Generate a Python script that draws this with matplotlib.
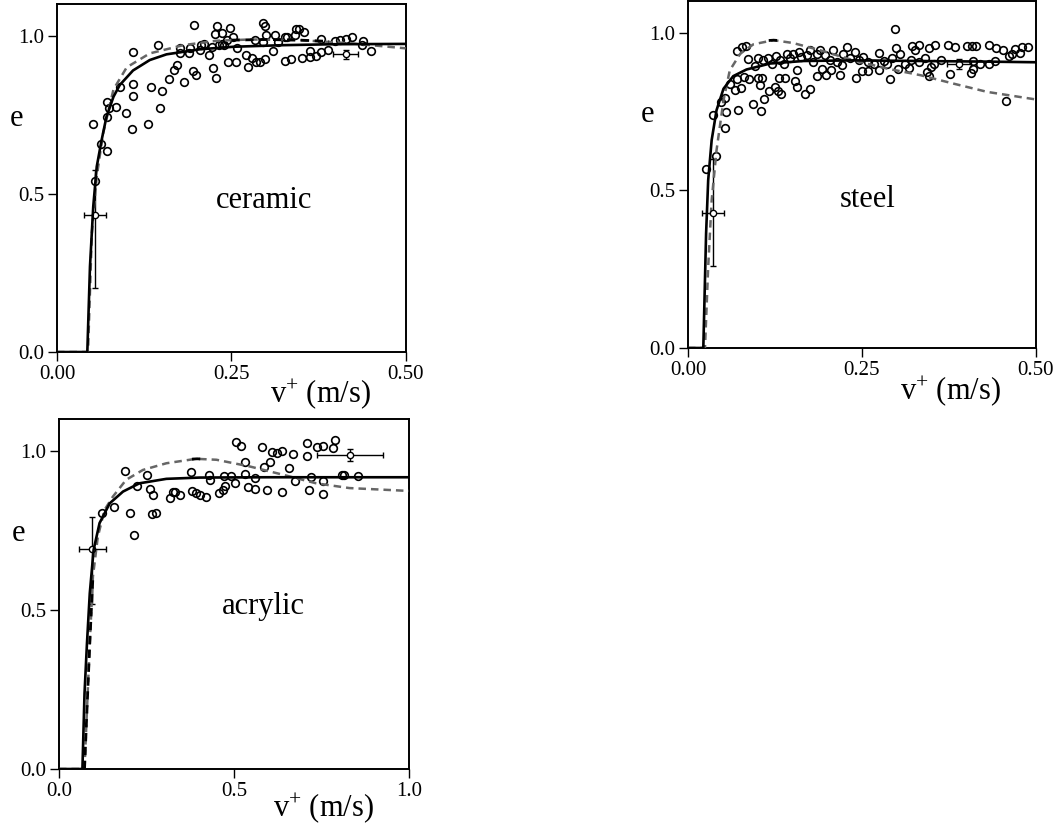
import matplotlib
matplotlib.use('Agg')
import matplotlib.pyplot as plt

plt.rcParams['font.family'] = ['Liberation Serif', 'DejaVu Serif']
plt.rcParams['mathtext.fontset'] = 'custom'
plt.rcParams['mathtext.rm'] = 'Liberation Serif'
plt.rcParams['mathtext.it'] = 'Liberation Serif:italic'

# ---------------- ceramic ----------------
cer_x = [0.052, 0.063, 0.072, 0.072, 0.071, 0.074, 0.085, 0.091, 0.099, 0.107,
         0.109, 0.109, 0.109, 0.131, 0.135, 0.147, 0.150, 0.145, 0.160, 0.168,
         0.172, 0.182, 0.176, 0.176, 0.189, 0.195, 0.200, 0.196, 0.190, 0.205,
         0.211, 0.218, 0.222, 0.223, 0.228, 0.226, 0.230, 0.237, 0.232, 0.240,
         0.248, 0.245, 0.253, 0.256, 0.258, 0.271, 0.274, 0.279, 0.286, 0.291,
         0.284, 0.295, 0.298, 0.300, 0.298, 0.295, 0.310, 0.312, 0.317, 0.327,
         0.327, 0.330, 0.336, 0.342, 0.347, 0.341, 0.351, 0.354, 0.362, 0.362,
         0.372, 0.379, 0.379, 0.388, 0.398, 0.405, 0.415, 0.423, 0.439, 0.437,
         0.450, 0.055, 0.207, 0.236, 0.244]
cer_y = [0.720, 0.658, 0.636, 0.742, 0.790, 0.770, 0.774, 0.837, 0.757, 0.704,
         0.810, 0.848, 0.948, 0.721, 0.838, 0.770, 0.824, 0.969, 0.862, 0.892,
         0.906, 0.855, 0.962, 0.944, 0.944, 0.888, 0.875, 1.033, 0.960, 0.955,
         0.975, 0.939, 0.965, 0.897, 0.867, 1.004, 1.031, 1.007, 0.971, 0.972,
         1.024, 0.916, 0.997, 0.916, 0.960, 0.939, 0.902, 0.928, 0.918, 0.916,
         0.985, 1.039, 1.031, 1.002, 0.926, 0.981, 0.953, 1.002, 0.981, 0.995,
         0.920, 0.997, 0.927, 1.021, 1.021, 1.002, 0.931, 1.013, 0.953, 0.932,
         0.937, 0.988, 0.950, 0.955, 0.984, 0.986, 0.989, 0.995, 0.984, 0.972,
         0.953, 0.541, 0.972, 0.975, 0.985]
cer_fit_x = [0.0, 0.0435, 0.0473, 0.052, 0.057, 0.064, 0.071, 0.081, 0.090, 0.109,
             0.133, 0.157, 0.205, 0.253, 0.324, 0.396, 0.500]
cer_fit_y = [0.0, 0.0, 0.27, 0.46, 0.586, 0.67, 0.744, 0.807, 0.844, 0.89,
             0.923, 0.941, 0.957, 0.965, 0.970, 0.973, 0.974]
cer_alt_x = [0.0, 0.0445, 0.050, 0.057, 0.066, 0.081, 0.100, 0.133, 0.181, 0.229,
             0.277, 0.348, 0.420, 0.500]
cer_alt_y = [0.0, 0.0, 0.376, 0.555, 0.69, 0.83, 0.90, 0.944, 0.970, 0.984,
             0.988, 0.986, 0.976, 0.960]
cer_blk_x = [0.25, 0.30, 0.348, 0.39]
cer_blk_y = [0.986, 0.988, 0.986, 0.982]
cer_err_x = [0.0544, 0.414]
cer_err_y = [0.434, 0.941]
cer_err_xe = [0.016, 0.018]
cer_err_ylo = [0.232, 0.015]
cer_err_yhi = [0.142, 0.015]

# ---------------- steel ----------------
stl_x = [0.026, 0.040, 0.036, 0.053, 0.055, 0.048, 0.053, 0.060, 0.068, 0.072,
         0.076, 0.071, 0.077, 0.083, 0.086, 0.070, 0.080, 0.087, 0.093, 0.105,
         0.109, 0.104, 0.107, 0.101, 0.117, 0.125, 0.130, 0.134, 0.131, 0.140,
         0.154, 0.156, 0.168, 0.175, 0.156, 0.185, 0.192, 0.199, 0.205, 0.218,
         0.221, 0.241, 0.250, 0.259, 0.275, 0.290, 0.302, 0.298, 0.299, 0.304,
         0.318, 0.321, 0.322, 0.326, 0.332, 0.341, 0.343, 0.347, 0.349, 0.347,
         0.355, 0.363, 0.373, 0.384, 0.377, 0.401, 0.408, 0.414, 0.407, 0.409,
         0.410, 0.419, 0.432, 0.433, 0.441, 0.443, 0.453, 0.457, 0.461, 0.465,
         0.470, 0.477, 0.480, 0.488,
         0.096, 0.101, 0.108, 0.115, 0.120, 0.126, 0.132, 0.138, 0.142, 0.147,
         0.151, 0.159, 0.163, 0.171, 0.176, 0.180, 0.185, 0.190, 0.197, 0.204,
         0.209, 0.214, 0.223, 0.228, 0.233, 0.240, 0.245, 0.251, 0.259, 0.267,
         0.275, 0.281, 0.286, 0.293, 0.312, 0.332, 0.353]
stl_y = [0.566, 0.608, 0.738, 0.699, 0.748, 0.780, 0.794, 0.838, 0.819, 0.756,
         0.825, 0.942, 0.955, 0.958, 0.915, 0.854, 0.859, 0.852, 0.773, 0.751,
         0.788, 0.835, 0.857, 0.857, 0.815, 0.826, 0.815, 0.804, 0.855, 0.857,
         0.847, 0.826, 0.804, 0.822, 0.883, 0.861, 0.886, 0.865, 0.881, 0.865,
         0.896, 0.857, 0.878, 0.878, 0.883, 0.854, 0.886, 1.013, 0.952, 0.933,
         0.888, 0.914, 0.958, 0.946, 0.960, 0.921, 0.875, 0.862, 0.891, 0.952,
         0.960, 0.912, 0.960, 0.955, 0.868, 0.958, 0.958, 0.958, 0.872, 0.884,
         0.910, 0.899, 0.962, 0.900, 0.910, 0.952, 0.944, 0.782, 0.925, 0.933,
         0.949, 0.936, 0.955, 0.955,
         0.894, 0.918, 0.912, 0.918, 0.902, 0.925, 0.914, 0.902, 0.933, 0.921,
         0.933, 0.939, 0.923, 0.928, 0.944, 0.907, 0.933, 0.944, 0.928, 0.914,
         0.944, 0.907, 0.933, 0.955, 0.918, 0.939, 0.914, 0.923, 0.907, 0.902,
         0.936, 0.910, 0.902, 0.918, 0.902, 0.907, 0.902]
stl_fit_x = [0.0, 0.022, 0.026, 0.029, 0.034, 0.041, 0.051, 0.065, 0.084, 0.118,
             0.166, 0.238, 0.334, 0.430, 0.500]
stl_fit_y = [0.0, 0.0, 0.363, 0.532, 0.659, 0.754, 0.822, 0.862, 0.883, 0.902,
             0.910, 0.912, 0.910, 0.908, 0.906]
stl_alt_x = [0.0, 0.0244, 0.029, 0.034, 0.041, 0.051, 0.060, 0.075, 0.094, 0.123,
             0.151, 0.190, 0.238, 0.286, 0.334, 0.382, 0.430, 0.500]
stl_alt_y = [0.0, 0.0, 0.257, 0.468, 0.627, 0.785, 0.880, 0.933, 0.963, 0.976,
             0.967, 0.944, 0.912, 0.886, 0.865, 0.838, 0.812, 0.788]
stl_blk_x = [0.116, 0.123, 0.130]
stl_blk_y = [0.975, 0.976, 0.975]
stl_err_x = [0.036, 0.389]
stl_err_y = [0.429, 0.900]
stl_err_xe = [0.016, 0.017]
stl_err_ylo = [0.17, 0.015]
stl_err_yhi = [0.17, 0.015]

# ---------------- acrylic ----------------
acr_x = [0.123, 0.157, 0.188, 0.202, 0.214, 0.223, 0.252, 0.259, 0.270, 0.266,
         0.278, 0.318, 0.326, 0.333, 0.345, 0.378, 0.380, 0.392, 0.404, 0.419,
         0.429, 0.433, 0.457, 0.470, 0.475, 0.473, 0.492, 0.502, 0.505, 0.521,
         0.532, 0.533, 0.540, 0.559, 0.559, 0.580, 0.586, 0.594, 0.602, 0.608,
         0.623, 0.637, 0.637, 0.657, 0.670, 0.676, 0.710, 0.709, 0.716, 0.721,
         0.737, 0.756, 0.754, 0.756, 0.783, 0.790, 0.810, 0.816, 0.856]
acr_y = [0.806, 0.822, 0.938, 0.804, 0.736, 0.888, 0.925, 0.879, 0.860, 0.801,
         0.804, 0.851, 0.870, 0.872, 0.860, 0.932, 0.875, 0.867, 0.862, 0.856,
         0.925, 0.909, 0.867, 0.877, 0.890, 0.922, 0.921, 0.900, 1.029, 1.014,
         0.964, 0.927, 0.886, 0.880, 0.914, 1.012, 0.949, 0.877, 0.966, 0.995,
         0.993, 0.998, 0.870, 0.946, 0.990, 0.904, 1.026, 0.985, 0.877, 0.919,
         1.012, 1.016, 0.864, 0.904, 1.008, 1.035, 0.925, 0.925, 0.921]
acr_fit_x = [0.0, 0.067, 0.073, 0.080, 0.088, 0.099, 0.116, 0.145, 0.183, 0.230,
             0.307, 0.402, 0.592, 0.783, 1.0]
acr_fit_y = [0.0, 0.0, 0.238, 0.395, 0.552, 0.689, 0.773, 0.835, 0.872, 0.898,
             0.912, 0.916, 0.917, 0.917, 0.917]
acr_alt_x = [0.0, 0.073, 0.080, 0.088, 0.097, 0.111, 0.130, 0.154, 0.192, 0.240,
             0.307, 0.392, 0.450, 0.545, 0.640, 0.735, 0.830, 1.0]
acr_alt_y = [0.0, 0.0, 0.186, 0.395, 0.605, 0.730, 0.814, 0.856, 0.909, 0.940,
             0.961, 0.975, 0.972, 0.951, 0.925, 0.898, 0.883, 0.874]
acr_blk_x = [0.073, 0.080, 0.088, 0.097]
acr_blk_y = [0.0, 0.186, 0.395, 0.605]
acr_blk2_x = [0.380, 0.395, 0.412]
acr_blk2_y = [0.974, 0.975, 0.974]
acr_err_x = [0.095, 0.832]
acr_err_y = [0.692, 0.987]
acr_err_xe = [0.038, 0.095]
acr_err_ylo = [0.174, 0.02]
acr_err_yhi = [0.099, 0.02]


def panel(rect, xs, ys, fit, alt, blks, err, xmax, xticks, xticklabels,
          name, name_pos, xlab_y):
    ax = fig.add_axes(rect)
    ax.plot(xs, ys, 'o', ms=5.5, mfc='none', mec='black', mew=1.2, zorder=3)
    ex, ey, exe, eylo, eyhi = err
    ax.errorbar(ex, ey, xerr=exe, yerr=[eylo, eyhi], fmt='o', ms=4.5,
                mfc='white', mec='black', mew=1.0, ecolor='black',
                elinewidth=1.0, capsize=2.5, capthick=1.0, zorder=4)
    ax.plot(alt[0], alt[1], color='0.4', lw=1.8, ls=(0, (3, 2)), zorder=4)
    for bx, by in blks:
        ax.plot(bx, by, color='black', lw=2.0, ls=(0, (3, 2)), zorder=5)
    ax.plot(fit[0], fit[1], color='black', lw=1.9, zorder=5)
    ax.set_xlim(0, xmax)
    ax.set_ylim(0, 1.10)
    ax.set_xticks(xticks)
    ax.set_xticklabels(xticklabels)
    ax.set_yticks([0.0, 0.5, 1.0])
    ax.set_yticklabels(['0.0', '0.5', '1.0'])
    ax.tick_params(direction='out', length=6.5, width=1.0, labelsize=15,
                   colors='black')
    ax.tick_params(axis='y', pad=2.5)
    ax.tick_params(axis='x', pad=3)
    for s in ax.spines.values():
        s.set_linewidth(1.4)
    ax.text(name_pos[0], name_pos[1], name, transform=ax.transAxes,
            fontsize=22, ha='center', va='baseline')
    ax.text(-0.115, 0.672, 'e', transform=ax.transAxes, fontsize=22,
            ha='center', va='center')
    ax.text(0.755, xlab_y, 'v$^{+}$ (m/s)', transform=ax.transAxes,
            fontsize=22, ha='center', va='center')
    return ax


fig = plt.figure(figsize=(10.57, 8.26), dpi=100)

panel([0.0539, 0.5738, 0.330, 0.4213], cer_x, cer_y,
      (cer_fit_x, cer_fit_y), (cer_alt_x, cer_alt_y),
      [(cer_blk_x, cer_blk_y)],
      (cer_err_x, cer_err_y, cer_err_xe, cer_err_ylo, cer_err_yhi),
      0.5, [0.0, 0.25, 0.5], ['0.00', '0.25', '0.50'],
      'ceramic', (0.595, 0.414), -0.12)

panel([0.6509, 0.5787, 0.3292, 0.420], stl_x, stl_y,
      (stl_fit_x, stl_fit_y), (stl_alt_x, stl_alt_y),
      [(stl_blk_x, stl_blk_y)],
      (stl_err_x, stl_err_y, stl_err_xe, stl_err_ylo, stl_err_yhi),
      0.5, [0.0, 0.25, 0.5], ['0.00', '0.25', '0.50'],
      'steel', (0.516, 0.406), -0.125)

panel([0.0558, 0.069, 0.331, 0.4237], acr_x, acr_y,
      (acr_fit_x, acr_fit_y), (acr_alt_x, acr_alt_y),
      [(acr_blk_x, acr_blk_y), (acr_blk2_x, acr_blk2_y)],
      (acr_err_x, acr_err_y, acr_err_xe, acr_err_ylo, acr_err_yhi),
      1.0, [0.0, 0.5, 1.0], ['0.0', '0.5', '1.0'],
      'acrylic', (0.585, 0.443), -0.112)

fig.savefig('out.png', dpi=100)
